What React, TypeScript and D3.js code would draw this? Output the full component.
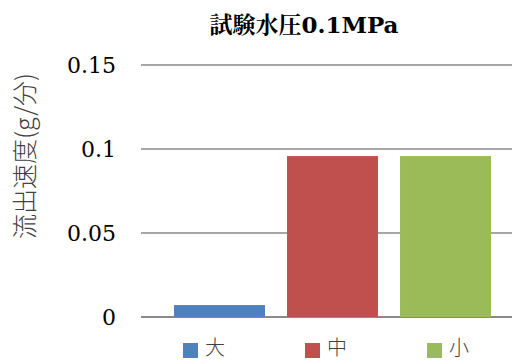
import { scaleBand, scaleLinear } from "d3";

const categories = ["大", "中", "小"];
const values = [0.0071, 0.0958, 0.0958];
const colors = ["#4F81BD", "#C0504D", "#9BBB59"];
const yTicks = [0, 0.05, 0.1, 0.15];
const tickLabels = ["0", "0.05", "0.1", "0.15"];

const W = 512;
const H = 360;
const left = 141;
const right = 512;

export default function App() {
  const y = scaleLinear().domain([0, 0.15]).range([317, 65]);
  const x = scaleBand<string>()
    .domain(categories)
    .range([163, 502])
    .paddingInner(0.195)
    .paddingOuter(0.0975);

  const serif = "DejaVu Serif, Noto Serif CJK JP, Noto Sans CJK JP, serif";
  const cjk = "Noto Sans CJK JP, sans-serif";

  return (
    <svg
      width={W}
      height={H}
      style={{ position: "absolute", left: 0, top: 0, background: "#fff" }}
    >
      <text
        x={304}
        y={33}
        textAnchor="middle"
        style={{ fontFamily: serif, fontWeight: 700, fontSize: 23 }}
        fill="#000"
      >
        試験水圧0.1MPa
      </text>

      {/* grid */}
      {yTicks.map((t, i) => (
        <g key={t}>
          <line
            x1={left}
            x2={right}
            y1={y(t)}
            y2={y(t)}
            stroke="#8a8a8a"
            strokeWidth={i === 0 ? 2 : 1.5}
          />
          <text
            x={116}
            y={y(t)}
            dy="0.36em"
            textAnchor="end"
            style={{ fontFamily: serif, fontSize: 22 }}
            fill="#000"
          >
            {tickLabels[i]}
          </text>
        </g>
      ))}

      {/* bars */}
      {categories.map((c, i) => (
        <rect
          key={c}
          x={x(c)}
          y={y(values[i])}
          width={x.bandwidth()}
          height={y(0) - y(values[i])}
          fill={colors[i]}
        />
      ))}

      <text
        transform="translate(34,156) rotate(-90)"
        textAnchor="middle"
        style={{ fontFamily: cjk, fontSize: 25, fontWeight: 300 }}
        fill="#404040"
      >
        流出速度(g/分)
      </text>

      {/* legend */}
      {categories.map((c, i) => (
        <g key={c} transform={`translate(${183 + i * 122},343)`}>
          <rect width={15} height={15} fill={colors[i]} />
          <text x={22} y={12} style={{ fontFamily: cjk, fontSize: 20, fontWeight: 300 }} fill="#404040">
            {c}
          </text>
        </g>
      ))}
    </svg>
  );
}
